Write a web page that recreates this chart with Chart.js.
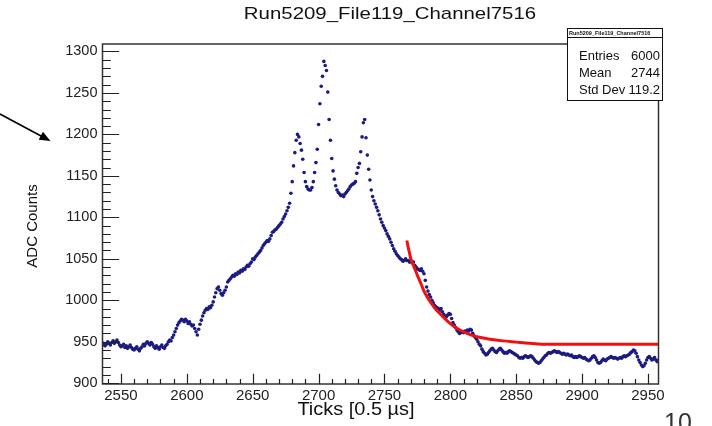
<!DOCTYPE html>
<html>
<head>
<meta charset="utf-8">
<script src="https://cdn.jsdelivr.net/npm/chart.js@4.4.1/dist/chart.umd.min.js"></script>
<style>
  html, body { margin: 0; padding: 0; background: #fff; }
  canvas { display: block; }
</style>
</head>
<body>
<canvas id="waveChart" width="712" height="426"></canvas>
<script>
// ADC waveform, one sample per tick starting at firstTick
const firstTick = 2536;
const adcCounts = [
  946, 948, 945, 947, 950, 948, 946, 949, 951, 948,
  950, 952, 949, 946, 944, 945, 947, 943, 945, 942,
  944, 946, 943, 941, 940, 942, 944, 941, 939, 942,
  944, 947, 945, 948, 950, 948, 946, 949, 947, 944,
  942, 945, 943, 941, 944, 946, 943, 942, 945, 947,
  950, 952, 951, 955, 958, 962, 966, 970, 973, 975,
  977, 976, 974, 977, 975, 972, 974, 971, 969, 970,
  966, 962, 958, 965, 971, 976, 981, 985, 988, 990,
  989, 992, 991, 994, 998, 1004, 1009, 1014, 1016, 1012,
  1008, 1006, 1009, 1012, 1016, 1022, 1024, 1026, 1028, 1030,
  1029, 1032, 1031, 1034, 1033, 1036, 1035, 1038, 1037, 1040,
  1042, 1041, 1044, 1046, 1050, 1049, 1052, 1054, 1056, 1058,
  1060, 1063, 1066, 1068, 1070, 1072, 1071, 1074, 1078, 1082,
  1083, 1085, 1086, 1088, 1090, 1092, 1094, 1098, 1101, 1104,
  1108, 1112, 1117, 1129, 1143, 1162, 1178, 1193, 1200, 1197,
  1189, 1181, 1170, 1154, 1143, 1137, 1134, 1133, 1133, 1136,
  1143, 1154, 1166, 1182, 1212, 1237, 1258, 1270, 1288, 1283,
  1277, 1251, 1218, 1193, 1171, 1156, 1146, 1138, 1133, 1130,
  1128, 1126, 1127, 1125, 1128, 1130, 1132, 1134, 1137, 1139,
  1140, 1141, 1143, 1153, 1160, 1165, 1179, 1197, 1214, 1218,
  1196, 1175, 1158, 1145, 1133, 1125, 1120, 1116, 1112, 1108,
  1103, 1098, 1094, 1090, 1087, 1084, 1080, 1077, 1074, 1070,
  1066, 1062, 1059, 1056, 1054, 1052, 1050, 1049, 1047, 1048,
  1050, 1048, 1048, 1046, 1047, 1045, 1046, 1042, 1040, 1038,
  1037, 1036, 1038, 1035, 1032, 1024, 1016, 1011, 1007, 1004,
  1000, 997, 994, 992, 991, 990, 988, 990, 986, 983,
  981, 980, 982, 984, 983, 978, 973, 970, 967, 964,
  962, 960, 961, 962, 961, 963, 962, 964, 963, 965,
  964, 960, 957, 955, 953, 950, 947, 945, 941, 938,
  936, 934, 935, 937, 939, 941, 942, 940, 938, 937,
  939, 941, 942, 940, 938, 936, 937, 936, 938, 939,
  938, 937, 936, 935, 934, 933, 931, 930, 931, 930,
  932, 933, 932, 931, 932, 933, 932, 930, 928, 926,
  925, 924, 925, 927, 929, 931, 933, 934, 936, 937,
  936, 937, 938, 939, 938, 937, 938, 937, 936, 935,
  936, 935, 934, 935, 934, 933, 934, 932, 931, 932,
  931, 932, 933, 932, 931, 930, 931, 929, 928, 927,
  928, 930, 932, 933, 931, 928, 925, 924, 925, 927,
  929, 928, 927, 929, 930, 931, 932, 931, 930, 931,
  930, 929, 930, 931, 930, 932, 933, 932, 933, 934,
  935, 937, 938, 940, 939, 936, 932, 928, 925, 922,
  920, 921, 924, 928, 931, 932, 930, 928, 929, 931,
  928, 926, 928
];

// exponential tail fit
const fitTicks = [2767, 2768, 2769, 2770, 2772, 2775, 2778, 2780, 2784, 2788, 2792,
  2797, 2803, 2810, 2816, 2823, 2830, 2840, 2850, 2860, 2870, 2958];
const fitValues = [1072, 1064, 1057, 1050, 1042, 1030, 1019, 1011, 1000, 991, 984,
  976, 968, 962, 958, 955, 953, 951, 949.5, 948, 947, 947];

const xTickValues = [2550, 2600, 2650, 2700, 2750, 2800, 2850, 2900, 2950];
const yTickValues = [900, 950, 1000, 1050, 1100, 1150, 1200, 1250, 1300];

const histName = 'Run5209_File119_Channel7516';
const statsLabels = ['Entries', 'Mean', 'Std Dev'];
const statsValues = ['6000', '2744', '119.2'];

const FONT = '"Liberation Sans", Arial, Helvetica, sans-serif';

const wavePoints = adcCounts.map((v, i) => ({ x: firstTick + i, y: v }));
const fitPoints = fitTicks.map((t, i) => ({ x: t, y: fitValues[i] }));

// text stretched horizontally like the ROOT canvas export
function wideText(ctx, text, x, y, sx) {
  ctx.save();
  ctx.translate(x, y);
  ctx.scale(sx, 1);
  ctx.fillText(text, 0, 0);
  ctx.restore();
}

// ROOT-like frame: inward ticks, stats box, titles
const rootStyle = {
  id: 'rootStyle',
  afterDatasetsDraw(chart) {
    const { ctx, chartArea: a, scales: { x, y } } = chart;
    ctx.save();
    ctx.strokeStyle = '#333';
    ctx.lineWidth = 1.5;
    ctx.strokeRect(a.left, a.top, a.right - a.left, a.bottom - a.top);

    ctx.lineWidth = 1.2;
    ctx.strokeStyle = '#222';
    ctx.beginPath();
    for (let v = Math.ceil(y.min / 10) * 10; v <= y.max; v += 10) {
      const py = Math.round(y.getPixelForValue(v)) + 0.5;
      const len = v % 50 === 0 ? 16.7 : 8.3;
      ctx.moveTo(a.left, py);
      ctx.lineTo(a.left + len, py);
    }
    for (let t = Math.ceil(x.min / 10) * 10; t <= x.max; t += 10) {
      const px = Math.round(x.getPixelForValue(t)) + 0.5;
      const len = t % 50 === 0 ? 10.2 : 5.1;
      ctx.moveTo(px, a.bottom);
      ctx.lineTo(px, a.bottom - len);
    }
    ctx.stroke();
    ctx.restore();
  },
  afterDraw(chart) {
    const { ctx, chartArea: a } = chart;
    ctx.save();

    // histogram title
    ctx.fillStyle = '#111';
    ctx.font = '17px ' + FONT;
    ctx.textAlign = 'center';
    ctx.textBaseline = 'middle';
    wideText(ctx, histName, 390, 14, 1.2);

    // axis titles
    ctx.font = '19px ' + FONT;
    wideText(ctx, 'Ticks [0.5 \u00b5s]', 356, 410, 1.05);
    ctx.save();
    ctx.translate(33, 226);
    ctx.rotate(-Math.PI / 2);
    ctx.font = '15px ' + FONT;
    ctx.fillText('ADC Counts', 0, 0);
    ctx.restore();

    // stats box
    const bx = 567, by = 28.5, bw = 95, bh = 72;
    ctx.fillStyle = '#fff';
    ctx.fillRect(bx, by, bw, bh);
    ctx.strokeStyle = '#111';
    ctx.lineWidth = 1;
    ctx.strokeRect(bx + 0.5, by, bw, bh);
    ctx.beginPath();
    ctx.moveTo(bx, by + 9);
    ctx.lineTo(bx + bw, by + 9);
    ctx.stroke();
    ctx.fillStyle = '#111';
    ctx.font = 'bold 5.5px ' + FONT;
    ctx.textAlign = 'left';
    ctx.fillText(histName, bx + 2, by + 4.8, bw - 4);
    ctx.font = '13px ' + FONT;
    statsLabels.forEach((lab, i) => {
      const ry = 56 + i * 17;
      ctx.textAlign = 'left';
      ctx.fillText(lab, bx + 12, ry);
      ctx.textAlign = 'right';
      ctx.fillText(statsValues[i], bx + bw - 2, ry);
    });

    // pointer arrow at the left margin
    ctx.strokeStyle = '#000';
    ctx.fillStyle = '#000';
    ctx.lineWidth = 1.6;
    const x0 = 0, y0 = 114, x1 = a.left - 52, y1 = 141;
    const ang = Math.atan2(y1 - y0, x1 - x0);
    ctx.beginPath();
    ctx.moveTo(x0, y0);
    ctx.lineTo(x1 - 6 * Math.cos(ang), y1 - 6 * Math.sin(ang));
    ctx.stroke();
    ctx.beginPath();
    ctx.moveTo(x1, y1);
    ctx.lineTo(x1 - 11 * Math.cos(ang) + 4.5 * Math.sin(ang), y1 - 11 * Math.sin(ang) - 4.5 * Math.cos(ang));
    ctx.lineTo(x1 - 11 * Math.cos(ang) - 4.5 * Math.sin(ang), y1 - 11 * Math.sin(ang) + 4.5 * Math.cos(ang));
    ctx.closePath();
    ctx.fill();

    // slide page number
    ctx.fillStyle = '#333';
    ctx.font = '25px ' + FONT;
    ctx.textAlign = 'left';
    ctx.textBaseline = 'top';
    ctx.fillText('10', 664, 412);
    ctx.restore();
  }
};

const ctx = document.getElementById('waveChart').getContext('2d');

window.waveChart = new Chart(ctx, {
  type: 'scatter',
  data: {
    datasets: [
      {
        label: 'fit',
        data: fitPoints,
        showLine: true,
        borderColor: '#f01010',
        borderWidth: 3,
        pointRadius: 0,
        cubicInterpolationMode: 'monotone',
      },
      {
        label: histName,
        data: wavePoints,
        showLine: false,
        pointRadius: 1.8,
        pointBorderWidth: 0,
        backgroundColor: '#1b1b80',
      },
    ],
  },
  options: {
    responsive: false,
    animation: false,
    devicePixelRatio: 1,
    layout: {
      padding: { left: 0, right: 53.5, top: 44, bottom: 0 },
    },
    scales: {
      x: {
        type: 'linear',
        min: 2536,
        max: 2958,
        afterBuildTicks: (axis) => {
          axis.ticks = xTickValues.map((v) => ({ value: v }));
        },
        afterFit: (axis) => {
          axis.height = 42;
        },
        grid: { display: false, drawTicks: false },
        border: { display: false },
        ticks: {
          padding: 3,
          maxRotation: 0,
          color: '#222',
          font: { family: FONT, size: 15 },
          callback: (v) => String(v),
        },
      },
      y: {
        min: 899,
        max: 1309,
        afterBuildTicks: (axis) => {
          axis.ticks = yTickValues.map((v) => ({ value: v }));
        },
        afterFit: (axis) => {
          axis.width = 102.5;
        },
        grid: { display: false, drawTicks: false },
        border: { display: false },
        ticks: {
          padding: 5,
          color: '#222',
          font: { family: FONT, size: 14.5 },
          callback: (v) => String(v),
        },
      },
    },
    plugins: {
      legend: { display: false },
      tooltip: { enabled: false },
    },
  },
  plugins: [rootStyle],
});
</script>
</body>
</html>
